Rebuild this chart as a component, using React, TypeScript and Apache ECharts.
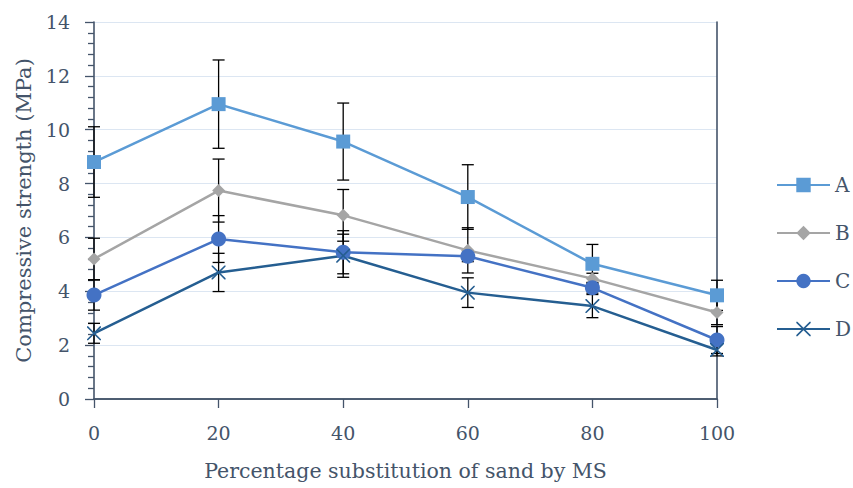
import React, { useEffect, useRef } from "react";
import * as echarts from "echarts";

const categories = ["0", "20", "40", "60", "80", "100"];
const seriesNames = ["A", "B", "C", "D"];
const valuesA = [8.8, 10.95, 9.56, 7.5, 5.02, 3.85];
const valuesB = [5.2, 7.74, 6.82, 5.52, 4.47, 3.21];
const valuesC = [3.86, 5.94, 5.45, 5.3, 4.13, 2.19];
const valuesD = [2.44, 4.7, 5.32, 3.95, 3.45, 1.82];
const errorsA = [1.31, 1.64, 1.43, 1.2, 0.72, 0.56];
const errorsB = [0.77, 1.17, 0.96, 0.84, 0.2, 0.45];
const errorsC = [0.56, 0.87, 0.8, 0.2, 0.2, 0.5];
const errorsD = [0.37, 0.71, 0.8, 0.55, 0.43, 0.22];
const yTicks = [0, 2, 4, 6, 8, 10, 12, 14];

const xTitle = "Percentage substitution of sand by MS";
const yTitle = "Compressive strength (MPa)";

const FONT = "DejaVu Serif";
const AXIS = "#44546A";
const colors = ["#5B9BD5", "#A5A5A5", "#4472C4", "#255E91"];
const crossPath =
  "path://M0,0L0.8,0L5,4.2L9.2,0L10,0L10,0.8L5.8,5L10,9.2L10,10L9.2,10L5,5.8L0.8,10L0,10L0,9.2L4.2,5L0,0.8Z";
const symbols = ["rect", "diamond", "circle", crossPath];
const symbolSizes = [14, 13, 15, 14];

export default function App() {
  const ref = useRef<HTMLDivElement>(null);
  useEffect(() => {
    if (!ref.current) return;
    const chart = echarts.init(ref.current, null, { renderer: "svg" });
    const allValues = [valuesA, valuesB, valuesC, valuesD];
    const allErrors = [errorsA, errorsB, errorsC, errorsD];

    const lineSeries = seriesNames.map((name, i) => ({
      name,
      type: "line",
      data: allValues[i],
      symbol: symbols[i],
      symbolSize: symbolSizes[i],
      showSymbol: true,
      lineStyle: { color: colors[i], width: 2.5 },
      itemStyle: { color: colors[i] },
      z: 3,
    }));

    const errorSeries = seriesNames.map((name, i) => ({
      name: name + "-err",
      type: "custom",
      data: allValues[i].map((v, j) => [j, v, allErrors[i][j]]),
      encode: { x: 0, y: 1 },
      z: 2,
      silent: true,
      renderItem: (params: any, api: any) => {
        const x = api.value(0);
        const y = api.value(1);
        const e = api.value(2);
        const top = api.coord([x, y + e]);
        const bot = api.coord([x, y - e]);
        const hw = 6;
        const style = { stroke: "#000", lineWidth: 1.3 };
        return {
          type: "group",
          children: [
            { type: "line", shape: { x1: top[0], y1: top[1], x2: bot[0], y2: bot[1] }, style },
            { type: "line", shape: { x1: top[0] - hw, y1: top[1], x2: top[0] + hw, y2: top[1] }, style },
            { type: "line", shape: { x1: bot[0] - hw, y1: bot[1], x2: bot[0] + hw, y2: bot[1] }, style },
          ],
        };
      },
    }));

    chart.setOption({
      animation: false,
      backgroundColor: "#fff",
      textStyle: { fontFamily: FONT },
      grid: { left: 94, right: 136, top: 22, bottom: 89 },
      legend: {
        data: seriesNames,
        orient: "vertical",
        left: 771,
        top: 170,
        itemWidth: 53,
        itemHeight: 18,
        itemGap: 28,
        textStyle: { fontSize: 20, color: AXIS, fontFamily: FONT },
      },
      xAxis: [
        {
          type: "category",
          data: categories,
          boundaryGap: false,
          axisLine: { lineStyle: { color: AXIS, width: 1.6 } },
          axisTick: { show: true, alignWithLabel: true, length: 9, lineStyle: { color: AXIS, width: 1.3 } },
          axisLabel: { fontSize: 19, color: AXIS, margin: 24, fontFamily: FONT },
          splitLine: { show: false },
          name: xTitle,
          nameLocation: "middle",
          nameGap: 61,
          nameTextStyle: { fontSize: 20.5, color: AXIS, fontFamily: FONT },
        },
        {
          type: "category",
          data: categories,
          boundaryGap: false,
          position: "top",
          axisLine: { show: true, lineStyle: { color: AXIS, width: 1.6 } },
          axisTick: { show: false },
          axisLabel: { show: false },
          splitLine: { show: false },
        },
      ],
      yAxis: [
        {
          type: "value",
          min: yTicks[0],
          max: yTicks[yTicks.length - 1],
          interval: 2,
          axisLine: { show: true, lineStyle: { color: AXIS, width: 1.6 } },
          axisTick: { show: true, length: 9, lineStyle: { color: AXIS, width: 1.3 } },
          minorTick: { show: true, splitNumber: 5, length: 6, lineStyle: { color: AXIS, width: 1.3 } },
          axisLabel: { fontSize: 19, color: AXIS, margin: 24, fontFamily: FONT },
          splitLine: { show: true, lineStyle: { color: "#DCE6F2", width: 1.2 } },
          name: yTitle,
          nameLocation: "middle",
          nameGap: 58,
          nameRotate: 90,
          nameTextStyle: { fontSize: 21, color: AXIS, fontFamily: FONT },
        },
        {
          type: "value",
          min: yTicks[0],
          max: yTicks[yTicks.length - 1],
          interval: 2,
          position: "right",
          axisLine: { show: true, lineStyle: { color: AXIS, width: 1.6 } },
          axisTick: { show: false },
          axisLabel: { show: false },
          splitLine: { show: false },
        },
      ],
      series: [...errorSeries, ...lineSeries],
    });
    return () => chart.dispose();
  }, []);
  return (
    <div
      ref={ref}
      style={{ position: "fixed", left: 0, top: 0, width: 853, height: 488, overflow: "hidden" }}
    />
  );
}
